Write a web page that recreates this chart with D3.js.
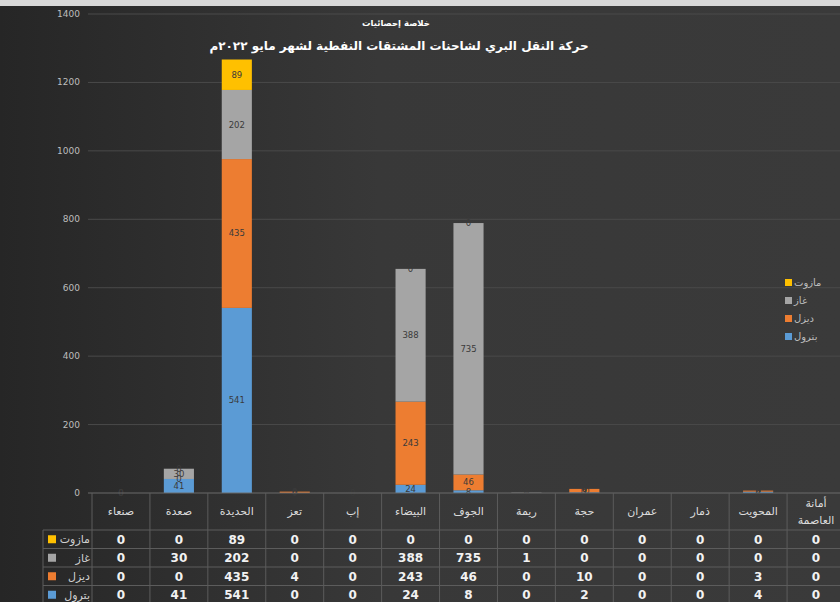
<!DOCTYPE html>
<html lang="ar">
<head>
<meta charset="UTF-8">
<title>حركة النقل البري</title>
<script src="https://d3js.org/d3.v7.min.js"></script>
<style>
  body { margin: 0; background: #333; }
  svg { display: block; font-family: "DejaVu Sans", sans-serif; }
</style>
</head>
<body>
<script>
// categories, left to right as in the chart
var categories = ['صنعاء', 'صعدة', 'الحديدة', 'تعز', 'إب', 'البيضاء', 'الجوف', 'ريمة', 'حجة', 'عمران', 'ذمار', 'المحويت', 'أمانة العاصمة'];
var seriesNames = ['بترول', 'ديزل', 'غاز', 'مازوت'];   // bottom to top in the stack
var petrol = [0, 41, 541, 0, 0, 24, 8, 0, 2, 0, 0, 4, 0];
var diesel = [0, 0, 435, 4, 0, 243, 46, 0, 10, 0, 0, 3, 0];
var gas    = [0, 30, 202, 0, 0, 388, 735, 1, 0, 0, 0, 0, 0];
var mazut  = [0, 0, 89, 0, 0, 0, 0, 0, 0, 0, 0, 0, 0];
var yTicks = [0, 200, 400, 600, 800, 1000, 1200, 1400];

var seriesValues = [petrol, diesel, gas, mazut];
var colors = ['#5b9bd5', '#ed7d31', '#a5a5a5', '#ffc000'];

var width = 840, height = 602;
var svg = d3.select('body').append('svg').attr('width', width).attr('height', height);

// background
var defs = svg.append('defs');
var bg = defs.append('linearGradient').attr('id', 'bg').attr('x1', 0).attr('x2', 1).attr('y1', 0).attr('y2', 0);
bg.append('stop').attr('offset', '0%').attr('stop-color', '#262626');
bg.append('stop').attr('offset', '45%').attr('stop-color', '#383838');
bg.append('stop').attr('offset', '100%').attr('stop-color', '#3a3a3a');
svg.append('rect').attr('width', width).attr('height', height).attr('fill', 'url(#bg)');
svg.append('rect').attr('width', width).attr('height', 6).attr('fill', '#d8d8d8');

var x = d3.scaleBand().domain(categories).range([92, 845]).padding(0);
var y = d3.scaleLinear().domain([0, 1400]).range([493, 14]);

// grid lines
svg.append('g').selectAll('line').data(yTicks.slice(1)).join('line')
    .attr('x1', 88).attr('x2', width)
    .attr('y1', function (d) { return y(d); }).attr('y2', function (d) { return y(d); })
    .attr('stroke', '#4a4a4a').attr('stroke-width', 1);

// y axis labels
svg.append('g').selectAll('text').data(yTicks).join('text')
    .attr('x', 80).attr('y', function (d) { return y(d) + 3; })
    .attr('text-anchor', 'end').attr('font-size', 9).attr('fill', '#bdbdbd')
    .text(function (d) { return d; });

// stacked data
var rows = categories.map(function (c, i) {
    var r = { cat: c };
    seriesNames.forEach(function (s, k) { r[s] = seriesValues[k][i]; });
    return r;
});
var stack = d3.stack().keys(seriesNames)(rows);

var barW = x.bandwidth() * 0.52;
var layers = svg.append('g').selectAll('g').data(stack).join('g')
    .attr('fill', function (d, k) { return colors[k]; });
layers.selectAll('rect').data(function (d) { return d; }).join('rect')
    .attr('x', function (d) { return x(d.data.cat) + (x.bandwidth() - barW) / 2; })
    .attr('width', barW)
    .attr('y', function (d) { return y(d[1]); })
    .attr('height', function (d) { return y(d[0]) - y(d[1]); });

// value labels inside segments
var labels = svg.append('g');
stack.forEach(function (layer) {
    labels.selectAll(null).data(layer).join('text')
        .attr('x', function (d) { return x(d.data.cat) + x.bandwidth() / 2; })
        .attr('y', function (d) { return (y(d[0]) + y(d[1])) / 2 + 3; })
        .attr('text-anchor', 'middle').attr('font-size', 8.5).attr('fill', '#3a3a3a')
        .text(function (d) { return d[1] - d[0]; });
});

// axis line
svg.append('line').attr('x1', 88).attr('x2', width).attr('y1', y(0)).attr('y2', y(0))
    .attr('stroke', '#6a6a6a');

// data table
var rowTop = 530, rowH = 18.5;
var table = svg.append('g');
var tableOrder = [3, 2, 1, 0];   // mazut, gas, diesel, petrol
table.selectAll('line.h').data(d3.range(5)).join('line')
    .attr('x1', 43).attr('x2', width)
    .attr('y1', function (i) { return rowTop + i * rowH; }).attr('y2', function (i) { return rowTop + i * rowH; })
    .attr('stroke', '#5c5c5c');
table.selectAll('line.v').data(categories).join('line')
    .attr('x1', function (c) { return x(c); }).attr('x2', function (c) { return x(c); })
    .attr('y1', y(0)).attr('y2', height)
    .attr('stroke', '#5c5c5c');
table.append('line').attr('x1', 43).attr('x2', 43).attr('y1', rowTop).attr('y2', height).attr('stroke', '#5c5c5c');

// category headers
categories.forEach(function (c) {
    var parts = c.split(' ');
    var t = table.append('text')
        .attr('x', x(c) + x.bandwidth() / 2)
        .attr('text-anchor', 'middle').attr('font-size', 11).attr('fill', '#dcdcdc');
    if (parts.length > 1) {
        t.append('tspan').attr('x', x(c) + x.bandwidth() / 2).attr('y', 507).text(parts[0]);
        t.append('tspan').attr('x', x(c) + x.bandwidth() / 2).attr('y', 524).text(parts[1]);
    } else {
        t.attr('y', 515).text(c);
    }
});

// row headers and values
tableOrder.forEach(function (k, r) {
    var cy = rowTop + r * rowH + rowH / 2;
    table.append('rect').attr('x', 48).attr('y', cy - 4).attr('width', 8).attr('height', 8).attr('fill', colors[k]);
    table.append('text').attr('x', 90).attr('y', cy + 4).attr('text-anchor', 'end')
        .attr('font-size', 11).attr('fill', '#d0d0d0').text(seriesNames[k]);
    table.append('g').selectAll('text').data(seriesValues[k]).join('text')
        .attr('x', function (d, i) { return x(categories[i]) + x.bandwidth() / 2; })
        .attr('y', cy + 4.5)
        .attr('text-anchor', 'middle').attr('font-size', 12).attr('font-weight', 'bold').attr('fill', '#f2f2f2')
        .text(function (d) { return d; });
});

// legend on the right
var legend = svg.append('g');
tableOrder.forEach(function (k, r) {
    var ly = 283 + r * 18;
    legend.append('rect').attr('x', 785).attr('y', ly - 4).attr('width', 7).attr('height', 7).attr('fill', colors[k]);
    legend.append('text').attr('x', 794).attr('y', ly + 3).attr('font-size', 10).attr('fill', '#bdbdbd').text(seriesNames[k]);
});

// titles
svg.append('text').attr('x', 396).attr('y', 26).attr('text-anchor', 'middle')
    .attr('font-size', 8.5).attr('font-weight', 'bold').attr('fill', '#ffffff').text('خلاصة إحصائيات');
svg.append('text').attr('x', 399).attr('y', 50).attr('text-anchor', 'middle')
    .attr('font-size', 12).attr('font-weight', 'bold').attr('fill', '#ffffff')
    .text('حركة  النقل البري لشاحنات المشتقات النفطية لشهر مايو ٢٠٢٢م');
</script>
</body>
</html>
